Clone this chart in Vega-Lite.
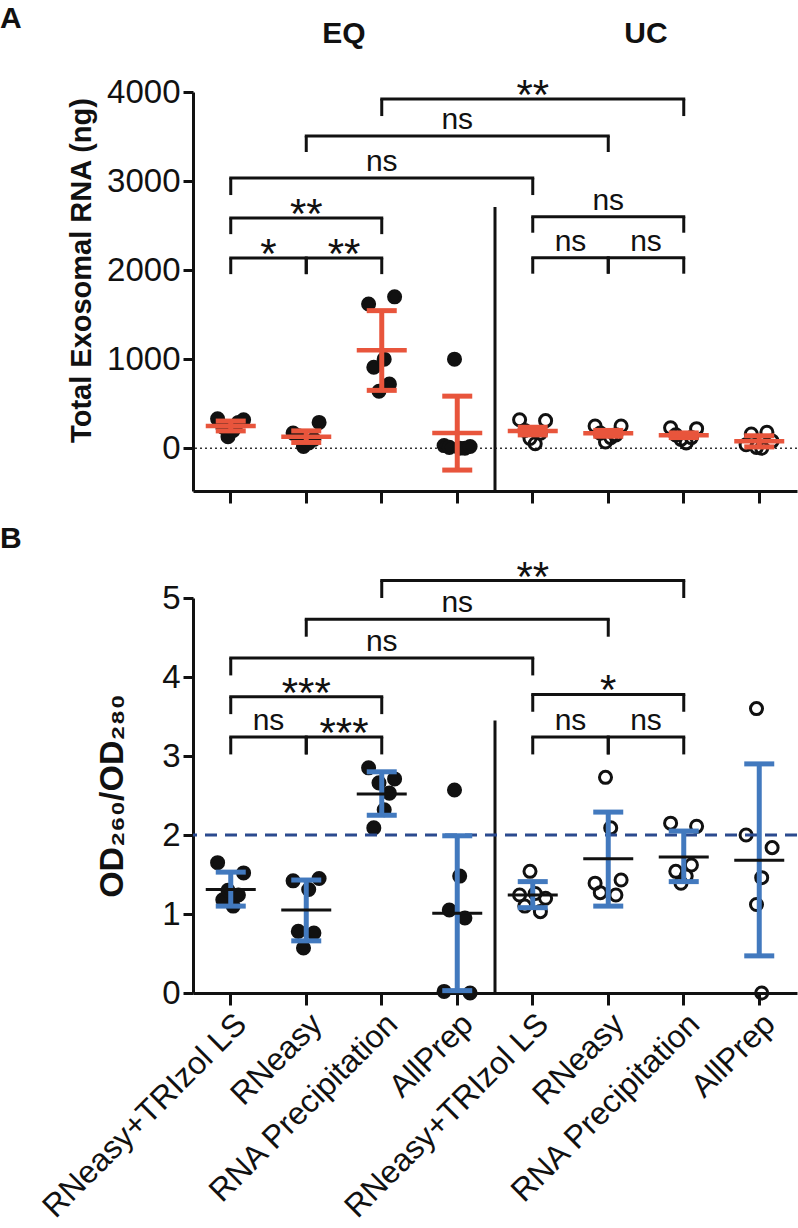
{
  "$schema": "https://vega.github.io/schema/vega-lite/v6.json",
  "background": "white",
  "padding": {"left": 0, "top": 4, "right": 0, "bottom": 0},
  "config": {
    "font": "Liberation Sans",
    "view": {"stroke": null},
    "concat": {"spacing": 18},
    "axis": {"domainColor": "#111", "domainWidth": 3, "tickColor": "#111", "tickWidth": 3, "labelColor": "#111", "labelFont": "Liberation Sans", "titleFont": "Liberation Sans", "titleColor": "#111", "grid": false},
    "axisY": {"labelFontSize": 33, "tickSize": 10, "labelPadding": 3, "titleFontSize": 29, "titleFontWeight": "bold", "titleBaseline": "middle", "titleAngle": -90, "format": "d"},
    "axisX": {"tickSize": 12, "labelFontSize": 32, "labelAngle": -45, "labelPadding": 3, "labelLimit": 500}
  },
  "datasets": {
    "ptsA": [
      {"cat": "EQ|RNeasy+TRIzol LS", "grp": "EQ", "rep": 1, "v": 330}, {"cat": "EQ|RNeasy+TRIzol LS", "grp": "EQ", "rep": 2, "v": 240}, {"cat": "EQ|RNeasy+TRIzol LS", "grp": "EQ", "rep": 3, "v": 130}, {"cat": "EQ|RNeasy+TRIzol LS", "grp": "EQ", "rep": 4, "v": 200}, {"cat": "EQ|RNeasy+TRIzol LS", "grp": "EQ", "rep": 5, "v": 290}, {"cat": "EQ|RNeasy+TRIzol LS", "grp": "EQ", "rep": 6, "v": 320},
      {"cat": "EQ|RNeasy", "grp": "EQ", "rep": 1, "v": 170}, {"cat": "EQ|RNeasy", "grp": "EQ", "rep": 2, "v": 140}, {"cat": "EQ|RNeasy", "grp": "EQ", "rep": 3, "v": 20}, {"cat": "EQ|RNeasy", "grp": "EQ", "rep": 4, "v": 60}, {"cat": "EQ|RNeasy", "grp": "EQ", "rep": 5, "v": 100}, {"cat": "EQ|RNeasy", "grp": "EQ", "rep": 6, "v": 290},
      {"cat": "EQ|RNA Precipitation", "grp": "EQ", "rep": 1, "v": 1620}, {"cat": "EQ|RNA Precipitation", "grp": "EQ", "rep": 2, "v": 910}, {"cat": "EQ|RNA Precipitation", "grp": "EQ", "rep": 3, "v": 640}, {"cat": "EQ|RNA Precipitation", "grp": "EQ", "rep": 4, "v": 1000}, {"cat": "EQ|RNA Precipitation", "grp": "EQ", "rep": 5, "v": 720}, {"cat": "EQ|RNA Precipitation", "grp": "EQ", "rep": 6, "v": 1700},
      {"cat": "EQ|AllPrep", "grp": "EQ", "rep": 1, "v": 30}, {"cat": "EQ|AllPrep", "grp": "EQ", "rep": 2, "v": 10}, {"cat": "EQ|AllPrep", "grp": "EQ", "rep": 3, "v": 1000}, {"cat": "EQ|AllPrep", "grp": "EQ", "rep": 4, "v": 0}, {"cat": "EQ|AllPrep", "grp": "EQ", "rep": 5, "v": 0}, {"cat": "EQ|AllPrep", "grp": "EQ", "rep": 6, "v": 20},
      {"cat": "UC|RNeasy+TRIzol LS", "grp": "UC", "rep": 1, "v": 320}, {"cat": "UC|RNeasy+TRIzol LS", "grp": "UC", "rep": 2, "v": 200}, {"cat": "UC|RNeasy+TRIzol LS", "grp": "UC", "rep": 3, "v": 110}, {"cat": "UC|RNeasy+TRIzol LS", "grp": "UC", "rep": 4, "v": 50}, {"cat": "UC|RNeasy+TRIzol LS", "grp": "UC", "rep": 5, "v": 170}, {"cat": "UC|RNeasy+TRIzol LS", "grp": "UC", "rep": 6, "v": 310},
      {"cat": "UC|RNeasy", "grp": "UC", "rep": 1, "v": 250}, {"cat": "UC|RNeasy", "grp": "UC", "rep": 2, "v": 170}, {"cat": "UC|RNeasy", "grp": "UC", "rep": 3, "v": 70}, {"cat": "UC|RNeasy", "grp": "UC", "rep": 4, "v": 120}, {"cat": "UC|RNeasy", "grp": "UC", "rep": 5, "v": 150}, {"cat": "UC|RNeasy", "grp": "UC", "rep": 6, "v": 250},
      {"cat": "UC|RNA Precipitation", "grp": "UC", "rep": 1, "v": 230}, {"cat": "UC|RNA Precipitation", "grp": "UC", "rep": 2, "v": 150}, {"cat": "UC|RNA Precipitation", "grp": "UC", "rep": 3, "v": 100}, {"cat": "UC|RNA Precipitation", "grp": "UC", "rep": 4, "v": 60}, {"cat": "UC|RNA Precipitation", "grp": "UC", "rep": 5, "v": 120}, {"cat": "UC|RNA Precipitation", "grp": "UC", "rep": 6, "v": 220},
      {"cat": "UC|AllPrep", "grp": "UC", "rep": 1, "v": 40}, {"cat": "UC|AllPrep", "grp": "UC", "rep": 2, "v": 160}, {"cat": "UC|AllPrep", "grp": "UC", "rep": 3, "v": 10}, {"cat": "UC|AllPrep", "grp": "UC", "rep": 4, "v": 0}, {"cat": "UC|AllPrep", "grp": "UC", "rep": 5, "v": 180}, {"cat": "UC|AllPrep", "grp": "UC", "rep": 6, "v": 80}
    ],
    "ptsB": [
      {"cat": "EQ|RNeasy+TRIzol LS", "grp": "EQ", "rep": 1, "v": 1.65}, {"cat": "EQ|RNeasy+TRIzol LS", "grp": "EQ", "rep": 2, "v": 1.18}, {"cat": "EQ|RNeasy+TRIzol LS", "grp": "EQ", "rep": 3, "v": 1.30}, {"cat": "EQ|RNeasy+TRIzol LS", "grp": "EQ", "rep": 4, "v": 1.10}, {"cat": "EQ|RNeasy+TRIzol LS", "grp": "EQ", "rep": 5, "v": 1.24}, {"cat": "EQ|RNeasy+TRIzol LS", "grp": "EQ", "rep": 6, "v": 1.52},
      {"cat": "EQ|RNeasy", "grp": "EQ", "rep": 1, "v": 1.42}, {"cat": "EQ|RNeasy", "grp": "EQ", "rep": 2, "v": 0.78}, {"cat": "EQ|RNeasy", "grp": "EQ", "rep": 3, "v": 0.57}, {"cat": "EQ|RNeasy", "grp": "EQ", "rep": 4, "v": 1.31}, {"cat": "EQ|RNeasy", "grp": "EQ", "rep": 5, "v": 0.76}, {"cat": "EQ|RNeasy", "grp": "EQ", "rep": 6, "v": 1.45},
      {"cat": "EQ|RNA Precipitation", "grp": "EQ", "rep": 1, "v": 2.85}, {"cat": "EQ|RNA Precipitation", "grp": "EQ", "rep": 2, "v": 2.09}, {"cat": "EQ|RNA Precipitation", "grp": "EQ", "rep": 3, "v": 2.66}, {"cat": "EQ|RNA Precipitation", "grp": "EQ", "rep": 4, "v": 2.32}, {"cat": "EQ|RNA Precipitation", "grp": "EQ", "rep": 5, "v": 2.53}, {"cat": "EQ|RNA Precipitation", "grp": "EQ", "rep": 6, "v": 2.71},
      {"cat": "EQ|AllPrep", "grp": "EQ", "rep": 1, "v": 0.02}, {"cat": "EQ|AllPrep", "grp": "EQ", "rep": 2, "v": 1.05}, {"cat": "EQ|AllPrep", "grp": "EQ", "rep": 3, "v": 2.57}, {"cat": "EQ|AllPrep", "grp": "EQ", "rep": 4, "v": 1.48}, {"cat": "EQ|AllPrep", "grp": "EQ", "rep": 5, "v": 0.95}, {"cat": "EQ|AllPrep", "grp": "EQ", "rep": 6, "v": 0.0},
      {"cat": "UC|RNeasy+TRIzol LS", "grp": "UC", "rep": 1, "v": 1.24}, {"cat": "UC|RNeasy+TRIzol LS", "grp": "UC", "rep": 2, "v": 1.10}, {"cat": "UC|RNeasy+TRIzol LS", "grp": "UC", "rep": 3, "v": 1.54}, {"cat": "UC|RNeasy+TRIzol LS", "grp": "UC", "rep": 4, "v": 1.26}, {"cat": "UC|RNeasy+TRIzol LS", "grp": "UC", "rep": 5, "v": 1.03}, {"cat": "UC|RNeasy+TRIzol LS", "grp": "UC", "rep": 6, "v": 1.20},
      {"cat": "UC|RNeasy", "grp": "UC", "rep": 1, "v": 1.39}, {"cat": "UC|RNeasy", "grp": "UC", "rep": 2, "v": 1.27}, {"cat": "UC|RNeasy", "grp": "UC", "rep": 3, "v": 2.73}, {"cat": "UC|RNeasy", "grp": "UC", "rep": 4, "v": 2.09}, {"cat": "UC|RNeasy", "grp": "UC", "rep": 5, "v": 1.24}, {"cat": "UC|RNeasy", "grp": "UC", "rep": 6, "v": 1.43},
      {"cat": "UC|RNA Precipitation", "grp": "UC", "rep": 1, "v": 2.15}, {"cat": "UC|RNA Precipitation", "grp": "UC", "rep": 2, "v": 1.54}, {"cat": "UC|RNA Precipitation", "grp": "UC", "rep": 3, "v": 1.39}, {"cat": "UC|RNA Precipitation", "grp": "UC", "rep": 4, "v": 1.48}, {"cat": "UC|RNA Precipitation", "grp": "UC", "rep": 5, "v": 1.62}, {"cat": "UC|RNA Precipitation", "grp": "UC", "rep": 6, "v": 2.11},
      {"cat": "UC|AllPrep", "grp": "UC", "rep": 1, "v": 2.00}, {"cat": "UC|AllPrep", "grp": "UC", "rep": 3, "v": 3.60}, {"cat": "UC|AllPrep", "grp": "UC", "rep": 4, "v": 1.46}, {"cat": "UC|AllPrep", "grp": "UC", "rep": 3, "v": 1.12}, {"cat": "UC|AllPrep", "grp": "UC", "rep": 4, "v": 0.0}, {"cat": "UC|AllPrep", "grp": "UC", "rep": 6, "v": 1.84}
    ],
    "statsA": [
      {"cat": "EQ|RNeasy+TRIzol LS", "mean": 250, "lo": 195, "hi": 305},
      {"cat": "EQ|RNeasy", "mean": 130, "lo": 65, "hi": 195},
      {"cat": "EQ|RNA Precipitation", "mean": 1100, "lo": 650, "hi": 1545},
      {"cat": "EQ|AllPrep", "mean": 170, "lo": -245, "hi": 585},
      {"cat": "UC|RNeasy+TRIzol LS", "mean": 193, "lo": 150, "hi": 236},
      {"cat": "UC|RNeasy", "mean": 168, "lo": 135, "hi": 200},
      {"cat": "UC|RNA Precipitation", "mean": 147, "lo": 120, "hi": 172},
      {"cat": "UC|AllPrep", "mean": 78, "lo": 15, "hi": 140}
    ],
    "statsB": [
      {"cat": "EQ|RNeasy+TRIzol LS", "mean": 1.31, "lo": 1.10, "hi": 1.53},
      {"cat": "EQ|RNeasy", "mean": 1.05, "lo": 0.66, "hi": 1.43},
      {"cat": "EQ|RNA Precipitation", "mean": 2.52, "lo": 2.25, "hi": 2.80},
      {"cat": "EQ|AllPrep", "mean": 1.01, "lo": 0.03, "hi": 1.99},
      {"cat": "UC|RNeasy+TRIzol LS", "mean": 1.24, "lo": 1.08, "hi": 1.41},
      {"cat": "UC|RNeasy", "mean": 1.70, "lo": 1.10, "hi": 2.29},
      {"cat": "UC|RNA Precipitation", "mean": 1.72, "lo": 1.41, "hi": 2.05},
      {"cat": "UC|AllPrep", "mean": 1.68, "lo": 0.47, "hi": 2.90}
    ],
    "brA": [
      {"from": "EQ|RNA Precipitation", "to": "UC|RNA Precipitation", "y": 3921, "yb": 3730, "label": "**", "mid": "UC|RNeasy+TRIzol LS", "pos": "c"},
      {"from": "EQ|RNeasy", "to": "UC|RNeasy", "y": 3506, "yb": 3326, "label": "ns", "mid": "EQ|AllPrep", "pos": "c"},
      {"from": "EQ|RNeasy+TRIzol LS", "to": "UC|RNeasy+TRIzol LS", "y": 3034, "yb": 2843, "label": "ns", "mid": "EQ|RNA Precipitation", "pos": "c"},
      {"from": "EQ|RNeasy+TRIzol LS", "to": "EQ|RNA Precipitation", "y": 2584, "yb": 2404, "label": "**", "mid": "EQ|RNeasy", "pos": "c"},
      {"from": "EQ|RNeasy+TRIzol LS", "to": "EQ|RNeasy", "y": 2135, "yb": 1955, "label": "*", "mid": "EQ|RNeasy", "pos": "e"},
      {"from": "EQ|RNeasy", "to": "EQ|RNA Precipitation", "y": 2135, "yb": 1955, "label": "**", "mid": "EQ|RNA Precipitation", "pos": "e"},
      {"from": "UC|RNeasy+TRIzol LS", "to": "UC|RNA Precipitation", "y": 2600, "yb": 2420, "label": "ns", "mid": "UC|RNeasy", "pos": "c"},
      {"from": "UC|RNeasy+TRIzol LS", "to": "UC|RNeasy", "y": 2140, "yb": 1960, "label": "ns", "mid": "UC|RNeasy", "pos": "e"},
      {"from": "UC|RNeasy", "to": "UC|RNA Precipitation", "y": 2140, "yb": 1960, "label": "ns", "mid": "UC|RNA Precipitation", "pos": "e"}
    ],
    "brB": [
      {"from": "EQ|RNA Precipitation", "to": "UC|RNA Precipitation", "y": 5.22, "yb": 5.0, "label": "**", "mid": "UC|RNeasy+TRIzol LS", "pos": "c"},
      {"from": "EQ|RNeasy", "to": "UC|RNeasy", "y": 4.73, "yb": 4.51, "label": "ns", "mid": "EQ|AllPrep", "pos": "c"},
      {"from": "EQ|RNeasy+TRIzol LS", "to": "UC|RNeasy+TRIzol LS", "y": 4.24, "yb": 4.02, "label": "ns", "mid": "EQ|RNA Precipitation", "pos": "c"},
      {"from": "EQ|RNeasy+TRIzol LS", "to": "EQ|RNA Precipitation", "y": 3.75, "yb": 3.53, "label": "***", "mid": "EQ|RNeasy", "pos": "c"},
      {"from": "EQ|RNeasy+TRIzol LS", "to": "EQ|RNeasy", "y": 3.24, "yb": 3.02, "label": "ns", "mid": "EQ|RNeasy", "pos": "e"},
      {"from": "EQ|RNeasy", "to": "EQ|RNA Precipitation", "y": 3.24, "yb": 3.02, "label": "***", "mid": "EQ|RNA Precipitation", "pos": "e"},
      {"from": "UC|RNeasy+TRIzol LS", "to": "UC|RNA Precipitation", "y": 3.78, "yb": 3.56, "label": "*", "mid": "UC|RNeasy", "pos": "c"},
      {"from": "UC|RNeasy+TRIzol LS", "to": "UC|RNeasy", "y": 3.24, "yb": 3.02, "label": "ns", "mid": "UC|RNeasy", "pos": "e"},
      {"from": "UC|RNeasy", "to": "UC|RNA Precipitation", "y": 3.24, "yb": 3.02, "label": "ns", "mid": "UC|RNA Precipitation", "pos": "e"}
    ],
    "sepA": [{"cat": "UC|RNeasy+TRIzol LS", "top": 2708, "bottom": -480}],
    "sepB": [{"cat": "UC|RNeasy+TRIzol LS", "top": 3.45, "bottom": 0}],
    "headA": [{"cat": "EQ|RNA Precipitation", "label": "EQ", "v": 4650}, {"cat": "UC|RNA Precipitation", "label": "UC", "v": 4650}]
  },
  "vconcat": [
    {
      "width": 604,
      "height": 399,
      "title": {"text": "A", "anchor": "start", "frame": "group", "dx": -193, "offset": -45, "fontSize": 30, "fontWeight": "bold", "baseline": "bottom", "color": "#111"},
      "layer": [
        {"data": {"values": [{}]}, "mark": {"type": "rule", "strokeDash": [2, 3], "strokeWidth": 1.5, "color": "#333"},
         "encoding": {"y": {"datum": 0, "type": "quantitative", "scale": {"domain": [-480, 4000], "nice": false, "zero": false}, "title": "Total Exosomal RNA (ng)", "axis": {"values": [0, 1000, 2000, 3000, 4000], "titleX": -112, "titleY": 178}}}},
        {"data": {"name": "sepA"}, "mark": {"type": "rule", "strokeWidth": 3, "color": "#111"},
         "encoding": {"x": {"field": "cat", "type": "nominal", "bandPosition": 0, "scale": {"domain": ["EQ|RNeasy+TRIzol LS", "EQ|RNeasy", "EQ|RNA Precipitation", "EQ|AllPrep", "UC|RNeasy+TRIzol LS", "UC|RNeasy", "UC|RNA Precipitation", "UC|AllPrep"], "paddingInner": 0, "paddingOuter": 0}, "title": null, "axis": {"labels": false}},
                      "y": {"field": "top", "type": "quantitative", "scale": {"domain": [-480, 4000], "nice": false, "zero": false}, "title": "Total Exosomal RNA (ng)", "axis": {"values": [0, 1000, 2000, 3000, 4000], "titleX": -112, "titleY": 178}},
                      "y2": {"field": "bottom"}}},
        {"data": {"name": "brA"}, "mark": {"type": "rule", "strokeWidth": 3, "color": "#111", "strokeCap": "square"},
         "encoding": {"x": {"field": "from", "type": "nominal", "scale": {"domain": ["EQ|RNeasy+TRIzol LS", "EQ|RNeasy", "EQ|RNA Precipitation", "EQ|AllPrep", "UC|RNeasy+TRIzol LS", "UC|RNeasy", "UC|RNA Precipitation", "UC|AllPrep"], "paddingInner": 0, "paddingOuter": 0}, "title": null, "axis": {"labels": false}},
                      "x2": {"field": "to"},
                      "y": {"field": "y", "type": "quantitative", "scale": {"domain": [-480, 4000], "nice": false, "zero": false}, "title": "Total Exosomal RNA (ng)", "axis": {"values": [0, 1000, 2000, 3000, 4000], "titleX": -112, "titleY": 178}}}},
        {"data": {"name": "brA"}, "mark": {"type": "rule", "strokeWidth": 3, "color": "#111"},
         "encoding": {"x": {"field": "from", "type": "nominal", "scale": {"domain": ["EQ|RNeasy+TRIzol LS", "EQ|RNeasy", "EQ|RNA Precipitation", "EQ|AllPrep", "UC|RNeasy+TRIzol LS", "UC|RNeasy", "UC|RNA Precipitation", "UC|AllPrep"], "paddingInner": 0, "paddingOuter": 0}, "title": null, "axis": {"labels": false}},
                      "y": {"field": "y", "type": "quantitative", "scale": {"domain": [-480, 4000], "nice": false, "zero": false}, "title": "Total Exosomal RNA (ng)", "axis": {"values": [0, 1000, 2000, 3000, 4000], "titleX": -112, "titleY": 178}},
                      "y2": {"field": "yb"}}},
        {"data": {"name": "brA"}, "mark": {"type": "rule", "strokeWidth": 3, "color": "#111"},
         "encoding": {"x": {"field": "to", "type": "nominal", "scale": {"domain": ["EQ|RNeasy+TRIzol LS", "EQ|RNeasy", "EQ|RNA Precipitation", "EQ|AllPrep", "UC|RNeasy+TRIzol LS", "UC|RNeasy", "UC|RNA Precipitation", "UC|AllPrep"], "paddingInner": 0, "paddingOuter": 0}, "title": null, "axis": {"labels": false}},
                      "y": {"field": "y", "type": "quantitative", "scale": {"domain": [-480, 4000], "nice": false, "zero": false}, "title": "Total Exosomal RNA (ng)", "axis": {"values": [0, 1000, 2000, 3000, 4000], "titleX": -112, "titleY": 178}},
                      "y2": {"field": "yb"}}},
        {"data": {"name": "brA"}, "transform": [{"filter": "datum.label == 'ns' && datum.pos == 'c'"}],
         "mark": {"type": "text", "fontSize": 30, "dy": -7, "baseline": "alphabetic", "color": "#111"},
         "encoding": {"x": {"field": "mid", "type": "nominal", "scale": {"domain": ["EQ|RNeasy+TRIzol LS", "EQ|RNeasy", "EQ|RNA Precipitation", "EQ|AllPrep", "UC|RNeasy+TRIzol LS", "UC|RNeasy", "UC|RNA Precipitation", "UC|AllPrep"], "paddingInner": 0, "paddingOuter": 0}, "title": null, "axis": {"labels": false}},
                      "y": {"field": "y", "type": "quantitative", "scale": {"domain": [-480, 4000], "nice": false, "zero": false}, "title": "Total Exosomal RNA (ng)", "axis": {"values": [0, 1000, 2000, 3000, 4000], "titleX": -112, "titleY": 178}},
                      "text": {"field": "label"}}},
        {"data": {"name": "brA"}, "transform": [{"filter": "datum.label == 'ns' && datum.pos == 'e'"}],
         "mark": {"type": "text", "fontSize": 30, "dy": -7, "baseline": "alphabetic", "color": "#111"},
         "encoding": {"x": {"field": "mid", "type": "nominal", "bandPosition": 0, "scale": {"domain": ["EQ|RNeasy+TRIzol LS", "EQ|RNeasy", "EQ|RNA Precipitation", "EQ|AllPrep", "UC|RNeasy+TRIzol LS", "UC|RNeasy", "UC|RNA Precipitation", "UC|AllPrep"], "paddingInner": 0, "paddingOuter": 0}, "title": null, "axis": {"labels": false}},
                      "y": {"field": "y", "type": "quantitative", "scale": {"domain": [-480, 4000], "nice": false, "zero": false}, "title": "Total Exosomal RNA (ng)", "axis": {"values": [0, 1000, 2000, 3000, 4000], "titleX": -112, "titleY": 178}},
                      "text": {"field": "label"}}},
        {"data": {"name": "brA"}, "transform": [{"filter": "datum.label != 'ns' && datum.pos == 'c'"}],
         "mark": {"type": "text", "fontSize": 42, "dy": 10, "baseline": "alphabetic", "color": "#111"},
         "encoding": {"x": {"field": "mid", "type": "nominal", "scale": {"domain": ["EQ|RNeasy+TRIzol LS", "EQ|RNeasy", "EQ|RNA Precipitation", "EQ|AllPrep", "UC|RNeasy+TRIzol LS", "UC|RNeasy", "UC|RNA Precipitation", "UC|AllPrep"], "paddingInner": 0, "paddingOuter": 0}, "title": null, "axis": {"labels": false}},
                      "y": {"field": "y", "type": "quantitative", "scale": {"domain": [-480, 4000], "nice": false, "zero": false}, "title": "Total Exosomal RNA (ng)", "axis": {"values": [0, 1000, 2000, 3000, 4000], "titleX": -112, "titleY": 178}},
                      "text": {"field": "label"}}},
        {"data": {"name": "brA"}, "transform": [{"filter": "datum.label != 'ns' && datum.pos == 'e'"}],
         "mark": {"type": "text", "fontSize": 42, "dy": 10, "baseline": "alphabetic", "color": "#111"},
         "encoding": {"x": {"field": "mid", "type": "nominal", "bandPosition": 0, "scale": {"domain": ["EQ|RNeasy+TRIzol LS", "EQ|RNeasy", "EQ|RNA Precipitation", "EQ|AllPrep", "UC|RNeasy+TRIzol LS", "UC|RNeasy", "UC|RNA Precipitation", "UC|AllPrep"], "paddingInner": 0, "paddingOuter": 0}, "title": null, "axis": {"labels": false}},
                      "y": {"field": "y", "type": "quantitative", "scale": {"domain": [-480, 4000], "nice": false, "zero": false}, "title": "Total Exosomal RNA (ng)", "axis": {"values": [0, 1000, 2000, 3000, 4000], "titleX": -112, "titleY": 178}},
                      "text": {"field": "label"}}},
        {"data": {"name": "ptsA"}, "mark": {"type": "circle", "size": 145, "stroke": "#111", "strokeWidth": 3, "opacity": 1},
         "encoding": {"x": {"field": "cat", "type": "nominal", "scale": {"domain": ["EQ|RNeasy+TRIzol LS", "EQ|RNeasy", "EQ|RNA Precipitation", "EQ|AllPrep", "UC|RNeasy+TRIzol LS", "UC|RNeasy", "UC|RNA Precipitation", "UC|AllPrep"], "paddingInner": 0, "paddingOuter": 0}, "title": null, "axis": {"labels": false}},
                      "xOffset": {"field": "rep", "type": "nominal", "scale": {"type": "point", "domain": [1, 2, 3, 4, 5, 6], "range": [24.6, 50.6], "padding": 0}},
                      "y": {"field": "v", "type": "quantitative", "scale": {"domain": [-480, 4000], "nice": false, "zero": false}, "title": "Total Exosomal RNA (ng)", "axis": {"values": [0, 1000, 2000, 3000, 4000], "titleX": -112, "titleY": 178}},
                      "fill": {"field": "grp", "type": "nominal", "scale": {"domain": ["EQ", "UC"], "range": ["#111111", "rgba(255,255,255,0)"]}, "legend": null}}},
        {"data": {"name": "statsA"}, "mark": {"type": "rule", "strokeWidth": 5, "color": "#E8553C"},
         "encoding": {"x": {"field": "cat", "type": "nominal", "scale": {"domain": ["EQ|RNeasy+TRIzol LS", "EQ|RNeasy", "EQ|RNA Precipitation", "EQ|AllPrep", "UC|RNeasy+TRIzol LS", "UC|RNeasy", "UC|RNA Precipitation", "UC|AllPrep"], "paddingInner": 0, "paddingOuter": 0}, "title": null, "axis": {"labels": false}},
                      "y": {"field": "lo", "type": "quantitative", "scale": {"domain": [-480, 4000], "nice": false, "zero": false}, "title": "Total Exosomal RNA (ng)", "axis": {"values": [0, 1000, 2000, 3000, 4000], "titleX": -112, "titleY": 178}},
                      "y2": {"field": "hi"}}},
        {"data": {"name": "statsA"}, "mark": {"type": "tick", "size": 30, "thickness": 5, "color": "#E8553C", "opacity": 1},
         "encoding": {"x": {"field": "cat", "type": "nominal", "scale": {"domain": ["EQ|RNeasy+TRIzol LS", "EQ|RNeasy", "EQ|RNA Precipitation", "EQ|AllPrep", "UC|RNeasy+TRIzol LS", "UC|RNeasy", "UC|RNA Precipitation", "UC|AllPrep"], "paddingInner": 0, "paddingOuter": 0}, "title": null, "axis": {"labels": false}},
                      "y": {"field": "lo", "type": "quantitative", "scale": {"domain": [-480, 4000], "nice": false, "zero": false}, "title": "Total Exosomal RNA (ng)", "axis": {"values": [0, 1000, 2000, 3000, 4000], "titleX": -112, "titleY": 178}}}},
        {"data": {"name": "statsA"}, "mark": {"type": "tick", "size": 30, "thickness": 5, "color": "#E8553C", "opacity": 1},
         "encoding": {"x": {"field": "cat", "type": "nominal", "scale": {"domain": ["EQ|RNeasy+TRIzol LS", "EQ|RNeasy", "EQ|RNA Precipitation", "EQ|AllPrep", "UC|RNeasy+TRIzol LS", "UC|RNeasy", "UC|RNA Precipitation", "UC|AllPrep"], "paddingInner": 0, "paddingOuter": 0}, "title": null, "axis": {"labels": false}},
                      "y": {"field": "hi", "type": "quantitative", "scale": {"domain": [-480, 4000], "nice": false, "zero": false}, "title": "Total Exosomal RNA (ng)", "axis": {"values": [0, 1000, 2000, 3000, 4000], "titleX": -112, "titleY": 178}}}},
        {"data": {"name": "statsA"}, "mark": {"type": "tick", "size": 50, "thickness": 4.5, "color": "#E8553C", "opacity": 1},
         "encoding": {"x": {"field": "cat", "type": "nominal", "scale": {"domain": ["EQ|RNeasy+TRIzol LS", "EQ|RNeasy", "EQ|RNA Precipitation", "EQ|AllPrep", "UC|RNeasy+TRIzol LS", "UC|RNeasy", "UC|RNA Precipitation", "UC|AllPrep"], "paddingInner": 0, "paddingOuter": 0}, "title": null, "axis": {"labels": false}},
                      "y": {"field": "mean", "type": "quantitative", "scale": {"domain": [-480, 4000], "nice": false, "zero": false}, "title": "Total Exosomal RNA (ng)", "axis": {"values": [0, 1000, 2000, 3000, 4000], "titleX": -112, "titleY": 178}}}},
        {"data": {"name": "headA"}, "mark": {"type": "text", "fontSize": 30, "fontWeight": "bold", "baseline": "middle", "color": "#111"},
         "encoding": {"x": {"field": "cat", "type": "nominal", "bandPosition": 0, "scale": {"domain": ["EQ|RNeasy+TRIzol LS", "EQ|RNeasy", "EQ|RNA Precipitation", "EQ|AllPrep", "UC|RNeasy+TRIzol LS", "UC|RNeasy", "UC|RNA Precipitation", "UC|AllPrep"], "paddingInner": 0, "paddingOuter": 0}, "title": null, "axis": {"labels": false}},
                      "y": {"field": "v", "type": "quantitative", "scale": {"domain": [-480, 4000], "nice": false, "zero": false}, "title": "Total Exosomal RNA (ng)", "axis": {"values": [0, 1000, 2000, 3000, 4000], "titleX": -112, "titleY": 178}},
                      "text": {"field": "label"}}}
      ]
    },
    {
      "width": 604,
      "height": 395,
      "title": {"text": "B", "anchor": "start", "frame": "group", "dx": -193, "offset": -27, "fontSize": 30, "fontWeight": "bold", "baseline": "bottom", "color": "#111"},
      "layer": [
        {"data": {"name": "sepB"}, "mark": {"type": "rule", "strokeWidth": 3, "color": "#111"},
         "encoding": {"x": {"field": "cat", "type": "nominal", "bandPosition": 0, "scale": {"domain": ["EQ|RNeasy+TRIzol LS", "EQ|RNeasy", "EQ|RNA Precipitation", "EQ|AllPrep", "UC|RNeasy+TRIzol LS", "UC|RNeasy", "UC|RNA Precipitation", "UC|AllPrep"], "paddingInner": 0, "paddingOuter": 0}, "title": null, "axis": {"labelExpr": "split(datum.label, '|')[1]"}},
                      "y": {"field": "top", "type": "quantitative", "scale": {"domain": [0, 5], "nice": false, "zero": false}, "title": "OD₂₆₀/OD₂₈₀", "axis": {"values": [0, 1, 2, 3, 4, 5], "titleX": -81, "titleY": 197.5, "titleFontSize": 34}},
                      "y2": {"field": "bottom"}}},
        {"data": {"name": "brB"}, "mark": {"type": "rule", "strokeWidth": 3, "color": "#111", "strokeCap": "square"},
         "encoding": {"x": {"field": "from", "type": "nominal", "scale": {"domain": ["EQ|RNeasy+TRIzol LS", "EQ|RNeasy", "EQ|RNA Precipitation", "EQ|AllPrep", "UC|RNeasy+TRIzol LS", "UC|RNeasy", "UC|RNA Precipitation", "UC|AllPrep"], "paddingInner": 0, "paddingOuter": 0}, "title": null, "axis": {"labelExpr": "split(datum.label, '|')[1]"}},
                      "x2": {"field": "to"},
                      "y": {"field": "y", "type": "quantitative", "scale": {"domain": [0, 5], "nice": false, "zero": false}, "title": "OD₂₆₀/OD₂₈₀", "axis": {"values": [0, 1, 2, 3, 4, 5], "titleX": -81, "titleY": 197.5, "titleFontSize": 34}}}},
        {"data": {"name": "brB"}, "mark": {"type": "rule", "strokeWidth": 3, "color": "#111"},
         "encoding": {"x": {"field": "from", "type": "nominal", "scale": {"domain": ["EQ|RNeasy+TRIzol LS", "EQ|RNeasy", "EQ|RNA Precipitation", "EQ|AllPrep", "UC|RNeasy+TRIzol LS", "UC|RNeasy", "UC|RNA Precipitation", "UC|AllPrep"], "paddingInner": 0, "paddingOuter": 0}, "title": null, "axis": {"labelExpr": "split(datum.label, '|')[1]"}},
                      "y": {"field": "y", "type": "quantitative", "scale": {"domain": [0, 5], "nice": false, "zero": false}, "title": "OD₂₆₀/OD₂₈₀", "axis": {"values": [0, 1, 2, 3, 4, 5], "titleX": -81, "titleY": 197.5, "titleFontSize": 34}},
                      "y2": {"field": "yb"}}},
        {"data": {"name": "brB"}, "mark": {"type": "rule", "strokeWidth": 3, "color": "#111"},
         "encoding": {"x": {"field": "to", "type": "nominal", "scale": {"domain": ["EQ|RNeasy+TRIzol LS", "EQ|RNeasy", "EQ|RNA Precipitation", "EQ|AllPrep", "UC|RNeasy+TRIzol LS", "UC|RNeasy", "UC|RNA Precipitation", "UC|AllPrep"], "paddingInner": 0, "paddingOuter": 0}, "title": null, "axis": {"labelExpr": "split(datum.label, '|')[1]"}},
                      "y": {"field": "y", "type": "quantitative", "scale": {"domain": [0, 5], "nice": false, "zero": false}, "title": "OD₂₆₀/OD₂₈₀", "axis": {"values": [0, 1, 2, 3, 4, 5], "titleX": -81, "titleY": 197.5, "titleFontSize": 34}},
                      "y2": {"field": "yb"}}},
        {"data": {"name": "brB"}, "transform": [{"filter": "datum.label == 'ns' && datum.pos == 'c'"}],
         "mark": {"type": "text", "fontSize": 30, "dy": -7, "baseline": "alphabetic", "color": "#111"},
         "encoding": {"x": {"field": "mid", "type": "nominal", "scale": {"domain": ["EQ|RNeasy+TRIzol LS", "EQ|RNeasy", "EQ|RNA Precipitation", "EQ|AllPrep", "UC|RNeasy+TRIzol LS", "UC|RNeasy", "UC|RNA Precipitation", "UC|AllPrep"], "paddingInner": 0, "paddingOuter": 0}, "title": null, "axis": {"labelExpr": "split(datum.label, '|')[1]"}},
                      "y": {"field": "y", "type": "quantitative", "scale": {"domain": [0, 5], "nice": false, "zero": false}, "title": "OD₂₆₀/OD₂₈₀", "axis": {"values": [0, 1, 2, 3, 4, 5], "titleX": -81, "titleY": 197.5, "titleFontSize": 34}},
                      "text": {"field": "label"}}},
        {"data": {"name": "brB"}, "transform": [{"filter": "datum.label == 'ns' && datum.pos == 'e'"}],
         "mark": {"type": "text", "fontSize": 30, "dy": -7, "baseline": "alphabetic", "color": "#111"},
         "encoding": {"x": {"field": "mid", "type": "nominal", "bandPosition": 0, "scale": {"domain": ["EQ|RNeasy+TRIzol LS", "EQ|RNeasy", "EQ|RNA Precipitation", "EQ|AllPrep", "UC|RNeasy+TRIzol LS", "UC|RNeasy", "UC|RNA Precipitation", "UC|AllPrep"], "paddingInner": 0, "paddingOuter": 0}, "title": null, "axis": {"labelExpr": "split(datum.label, '|')[1]"}},
                      "y": {"field": "y", "type": "quantitative", "scale": {"domain": [0, 5], "nice": false, "zero": false}, "title": "OD₂₆₀/OD₂₈₀", "axis": {"values": [0, 1, 2, 3, 4, 5], "titleX": -81, "titleY": 197.5, "titleFontSize": 34}},
                      "text": {"field": "label"}}},
        {"data": {"name": "brB"}, "transform": [{"filter": "datum.label != 'ns' && datum.pos == 'c'"}],
         "mark": {"type": "text", "fontSize": 42, "dy": 10, "baseline": "alphabetic", "color": "#111"},
         "encoding": {"x": {"field": "mid", "type": "nominal", "scale": {"domain": ["EQ|RNeasy+TRIzol LS", "EQ|RNeasy", "EQ|RNA Precipitation", "EQ|AllPrep", "UC|RNeasy+TRIzol LS", "UC|RNeasy", "UC|RNA Precipitation", "UC|AllPrep"], "paddingInner": 0, "paddingOuter": 0}, "title": null, "axis": {"labelExpr": "split(datum.label, '|')[1]"}},
                      "y": {"field": "y", "type": "quantitative", "scale": {"domain": [0, 5], "nice": false, "zero": false}, "title": "OD₂₆₀/OD₂₈₀", "axis": {"values": [0, 1, 2, 3, 4, 5], "titleX": -81, "titleY": 197.5, "titleFontSize": 34}},
                      "text": {"field": "label"}}},
        {"data": {"name": "brB"}, "transform": [{"filter": "datum.label != 'ns' && datum.pos == 'e'"}],
         "mark": {"type": "text", "fontSize": 42, "dy": 10, "baseline": "alphabetic", "color": "#111"},
         "encoding": {"x": {"field": "mid", "type": "nominal", "bandPosition": 0, "scale": {"domain": ["EQ|RNeasy+TRIzol LS", "EQ|RNeasy", "EQ|RNA Precipitation", "EQ|AllPrep", "UC|RNeasy+TRIzol LS", "UC|RNeasy", "UC|RNA Precipitation", "UC|AllPrep"], "paddingInner": 0, "paddingOuter": 0}, "title": null, "axis": {"labelExpr": "split(datum.label, '|')[1]"}},
                      "y": {"field": "y", "type": "quantitative", "scale": {"domain": [0, 5], "nice": false, "zero": false}, "title": "OD₂₆₀/OD₂₈₀", "axis": {"values": [0, 1, 2, 3, 4, 5], "titleX": -81, "titleY": 197.5, "titleFontSize": 34}},
                      "text": {"field": "label"}}},
        {"data": {"name": "ptsB"}, "mark": {"type": "circle", "size": 145, "stroke": "#111", "strokeWidth": 3, "opacity": 1},
         "encoding": {"x": {"field": "cat", "type": "nominal", "scale": {"domain": ["EQ|RNeasy+TRIzol LS", "EQ|RNeasy", "EQ|RNA Precipitation", "EQ|AllPrep", "UC|RNeasy+TRIzol LS", "UC|RNeasy", "UC|RNA Precipitation", "UC|AllPrep"], "paddingInner": 0, "paddingOuter": 0}, "title": null, "axis": {"labelExpr": "split(datum.label, '|')[1]"}},
                      "xOffset": {"field": "rep", "type": "nominal", "scale": {"type": "point", "domain": [1, 2, 3, 4, 5, 6], "range": [24.6, 50.6], "padding": 0}},
                      "y": {"field": "v", "type": "quantitative", "scale": {"domain": [0, 5], "nice": false, "zero": false}, "title": "OD₂₆₀/OD₂₈₀", "axis": {"values": [0, 1, 2, 3, 4, 5], "titleX": -81, "titleY": 197.5, "titleFontSize": 34}},
                      "fill": {"field": "grp", "type": "nominal", "scale": {"domain": ["EQ", "UC"], "range": ["#111111", "rgba(255,255,255,0)"]}, "legend": null}}},
        {"data": {"values": [{}]}, "mark": {"type": "rule", "strokeDash": [12, 8], "strokeWidth": 3, "color": "#2B4A8E"},
         "encoding": {"y": {"datum": 2, "type": "quantitative", "scale": {"domain": [0, 5], "nice": false, "zero": false}, "title": "OD₂₆₀/OD₂₈₀", "axis": {"values": [0, 1, 2, 3, 4, 5], "titleX": -81, "titleY": 197.5, "titleFontSize": 34}}}},
        {"data": {"name": "statsB"}, "mark": {"type": "rule", "strokeWidth": 5, "color": "#4279BE"},
         "encoding": {"x": {"field": "cat", "type": "nominal", "scale": {"domain": ["EQ|RNeasy+TRIzol LS", "EQ|RNeasy", "EQ|RNA Precipitation", "EQ|AllPrep", "UC|RNeasy+TRIzol LS", "UC|RNeasy", "UC|RNA Precipitation", "UC|AllPrep"], "paddingInner": 0, "paddingOuter": 0}, "title": null, "axis": {"labelExpr": "split(datum.label, '|')[1]"}},
                      "y": {"field": "lo", "type": "quantitative", "scale": {"domain": [0, 5], "nice": false, "zero": false}, "title": "OD₂₆₀/OD₂₈₀", "axis": {"values": [0, 1, 2, 3, 4, 5], "titleX": -81, "titleY": 197.5, "titleFontSize": 34}},
                      "y2": {"field": "hi"}}},
        {"data": {"name": "statsB"}, "mark": {"type": "tick", "size": 30, "thickness": 5, "color": "#4279BE", "opacity": 1},
         "encoding": {"x": {"field": "cat", "type": "nominal", "scale": {"domain": ["EQ|RNeasy+TRIzol LS", "EQ|RNeasy", "EQ|RNA Precipitation", "EQ|AllPrep", "UC|RNeasy+TRIzol LS", "UC|RNeasy", "UC|RNA Precipitation", "UC|AllPrep"], "paddingInner": 0, "paddingOuter": 0}, "title": null, "axis": {"labelExpr": "split(datum.label, '|')[1]"}},
                      "y": {"field": "lo", "type": "quantitative", "scale": {"domain": [0, 5], "nice": false, "zero": false}, "title": "OD₂₆₀/OD₂₈₀", "axis": {"values": [0, 1, 2, 3, 4, 5], "titleX": -81, "titleY": 197.5, "titleFontSize": 34}}}},
        {"data": {"name": "statsB"}, "mark": {"type": "tick", "size": 30, "thickness": 5, "color": "#4279BE", "opacity": 1},
         "encoding": {"x": {"field": "cat", "type": "nominal", "scale": {"domain": ["EQ|RNeasy+TRIzol LS", "EQ|RNeasy", "EQ|RNA Precipitation", "EQ|AllPrep", "UC|RNeasy+TRIzol LS", "UC|RNeasy", "UC|RNA Precipitation", "UC|AllPrep"], "paddingInner": 0, "paddingOuter": 0}, "title": null, "axis": {"labelExpr": "split(datum.label, '|')[1]"}},
                      "y": {"field": "hi", "type": "quantitative", "scale": {"domain": [0, 5], "nice": false, "zero": false}, "title": "OD₂₆₀/OD₂₈₀", "axis": {"values": [0, 1, 2, 3, 4, 5], "titleX": -81, "titleY": 197.5, "titleFontSize": 34}}}},
        {"data": {"name": "statsB"}, "mark": {"type": "tick", "size": 50, "thickness": 3, "color": "#111", "opacity": 1},
         "encoding": {"x": {"field": "cat", "type": "nominal", "scale": {"domain": ["EQ|RNeasy+TRIzol LS", "EQ|RNeasy", "EQ|RNA Precipitation", "EQ|AllPrep", "UC|RNeasy+TRIzol LS", "UC|RNeasy", "UC|RNA Precipitation", "UC|AllPrep"], "paddingInner": 0, "paddingOuter": 0}, "title": null, "axis": {"labelExpr": "split(datum.label, '|')[1]"}},
                      "y": {"field": "mean", "type": "quantitative", "scale": {"domain": [0, 5], "nice": false, "zero": false}, "title": "OD₂₆₀/OD₂₈₀", "axis": {"values": [0, 1, 2, 3, 4, 5], "titleX": -81, "titleY": 197.5, "titleFontSize": 34}}}}
      ]
    }
  ]
}
